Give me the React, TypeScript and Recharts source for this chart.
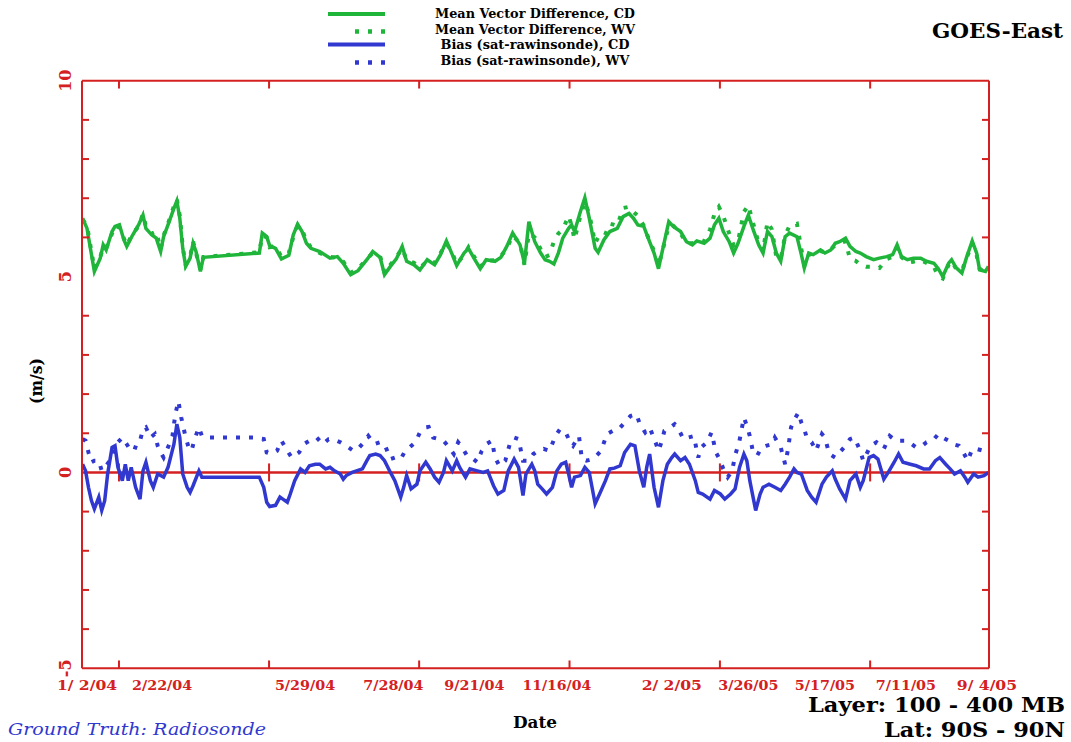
import React from "react";
import { LineChart, Line, XAxis, YAxis, ReferenceLine } from "recharts";

const RED = "#d42020";
const GREEN = "#1fb43a";
const BLUE = "#3038d0";
const FONT = "'DejaVu Serif', serif";

// x is days since 1/2/04
const X_MIN = -3.4;
const X_MAX = 612.4;
const xTickDays = [0, 51, 148, 208, 263, 319, 397, 449, 501, 556, 611];
const xTickLabels = ["1/ 2/04", "2/22/04", "5/29/04", "7/28/04", "9/21/04", "11/16/04", "2/ 2/05", "3/26/05", "5/17/05", "7/11/05", "9/ 4/05"];
const xMarkDays = [21.7, 123.6, 225.5, 327.6, 429.7, 531.7];
const yTicks = [-5, 0, 5, 10];
const yMinorTicks = [-4, -3, -2, -1, 1, 2, 3, 4, 6, 7, 8, 9];

// Mean Vector Difference, CD
const mvdCD: [number, number][] = [[-3,6.49],[0,6.23],[5,5.13],[9,5.47],[11,5.81],[13,5.68],[17,6.15],[19,6.28],[22,6.32],[25,5.94],[27,5.77],[31,6.06],[35,6.32],[38,6.57],[40,6.23],[44,6.06],[47,5.98],[50,5.64],[52,6.02],[55,6.32],[59,6.74],[61,6.93],[63,6.49],[65,5.72],[67,5.26],[70,5.47],[72,5.85],[74,5.64],[77,5.13],[79,5.49],[117,5.6],[119,6.11],[122,6.02],[124,5.79],[128,5.72],[132,5.45],[137,5.54],[140,6.06],[143,6.34],[146,6.15],[149,5.85],[152,5.72],[158,5.64],[165,5.47],[170,5.51],[174,5.34],[179,5.05],[184,5.15],[190,5.43],[194,5.64],[199,5.49],[202,5.05],[206,5.26],[210,5.45],[214,5.77],[217,5.39],[222,5.3],[226,5.17],[231,5.43],[236,5.3],[240,5.56],[244,5.91],[248,5.56],[251,5.28],[256,5.6],[259,5.72],[263,5.45],[267,5.2],[271,5.43],[277,5.39],[281,5.49],[285,5.77],[289,6.11],[294,5.81],[297,5.34],[300,6.4],[304,5.89],[308,5.6],[311,5.43],[314,5.39],[317,5.32],[320,5.6],[323,5.98],[327,6.23],[329,6.32],[331,6.15],[335,6.66],[338,7.01],[341,6.49],[345,5.72],[347,5.62],[351,5.94],[355,6.15],[360,6.23],[364,6.53],[368,6.61],[371,6.49],[374,6.32],[378,6.28],[381,5.98],[385,5.6],[388,5.2],[391,5.72],[395,6.4],[398,6.28],[403,6.15],[407,5.89],[411,5.81],[414,5.91],[419,5.85],[423,5.98],[426,6.32],[429,6.49],[432,6.15],[436,5.89],[439,5.6],[442,5.85],[446,6.28],[449,6.57],[452,6.23],[456,5.81],[459,5.6],[462,6.15],[465,6.02],[468,5.6],[471,5.39],[474,6.02],[477,6.11],[482,6.02],[485,5.56],[487,5.22],[490,5.6],[493,5.56],[498,5.68],[501,5.6],[505,5.68],[508,5.85],[511,5.89],[515,5.98],[518,5.77],[522,5.64],[525,5.6],[529,5.51],[534,5.43],[538,5.47],[543,5.51],[547,5.56],[550,5.81],[553,5.51],[557,5.43],[561,5.47],[566,5.47],[570,5.39],[575,5.34],[578,5.2],[581,5.0],[585,5.34],[587,5.43],[590,5.23],[594,5.09],[597,5.47],[601,5.91],[604,5.6],[606,5.17],[610,5.13],[612,5.26]];

// Mean Vector Difference, WV
const mvdWV: [number, number][] = [[-3,6.45],[0,6.3],[5,5.2],[9,5.5],[11,5.75],[13,5.72],[17,6.1],[19,6.3],[22,6.25],[25,5.98],[27,5.8],[31,6.1],[35,6.28],[38,6.6],[40,6.28],[44,6.1],[47,6.15],[50,5.7],[52,6.05],[55,6.35],[59,6.8],[61,6.98],[63,6.55],[65,5.75],[67,5.3],[70,5.5],[72,5.9],[74,5.6],[77,5.18],[79,5.5],[117,5.62],[119,6.05],[122,6.0],[124,5.75],[128,5.78],[132,5.5],[137,5.6],[140,6.0],[143,6.3],[146,6.2],[149,5.9],[152,5.75],[158,5.6],[165,5.5],[170,5.48],[174,5.38],[179,5.1],[184,5.2],[190,5.45],[194,5.6],[199,5.52],[202,5.1],[206,5.3],[210,5.5],[214,5.72],[217,5.42],[222,5.35],[226,5.22],[231,5.4],[236,5.35],[240,5.6],[244,5.85],[248,5.6],[251,5.32],[256,5.55],[259,5.75],[263,5.5],[267,5.25],[271,5.4],[277,5.42],[281,5.52],[285,5.72],[289,6.05],[294,5.85],[297,5.3],[300,6.1],[304,6.0],[308,5.7],[311,5.5],[314,5.55],[317,5.9],[320,6.1],[323,6.2],[327,6.55],[329,6.3],[331,5.95],[335,6.55],[338,6.9],[341,6.6],[345,5.85],[347,6.0],[351,6.0],[355,6.35],[360,6.3],[364,6.75],[368,6.78],[371,6.65],[374,6.55],[378,6.3],[381,6.0],[385,5.65],[388,5.28],[391,5.7],[395,6.3],[398,6.3],[403,6.1],[407,5.85],[411,5.85],[414,5.88],[419,5.9],[423,6.2],[426,6.6],[429,6.78],[432,6.55],[436,6.1],[439,5.8],[442,5.9],[446,6.65],[449,6.82],[452,6.4],[456,5.85],[459,5.65],[462,6.4],[465,6.2],[468,5.5],[471,5.45],[474,6.05],[477,6.3],[482,6.35],[485,5.7],[487,5.3],[490,5.55],[493,5.6],[498,5.65],[501,5.62],[505,5.7],[508,5.8],[511,5.85],[515,5.9],[518,5.45],[522,5.4],[525,5.3],[529,5.25],[534,5.25],[538,5.22],[543,5.45],[547,5.5],[550,5.75],[553,5.5],[557,5.35],[561,5.38],[566,5.42],[570,5.35],[575,5.25],[578,5.0],[581,4.95],[585,5.3],[587,5.4],[590,5.2],[594,5.15],[597,5.45],[601,5.85],[604,5.55],[606,5.2],[610,5.1],[612,5.2]];

// Bias (sat-rawinsonde), CD
const biasCD: [number, number][] = [[-3,0.21],[-1,0.04],[1,-0.38],[3,-0.72],[5,-0.93],[8,-0.63],[10,-0.97],[12,-0.72],[14,-0.04],[17,0.64],[19,0.68],[21,0.13],[24,-0.21],[26,0.21],[28,-0.21],[30,0.13],[33,-0.38],[36,-0.68],[38,0.04],[40,0.26],[43,-0.21],[45,-0.38],[48,-0.04],[52,-0.12],[55,0.13],[59,0.72],[61,1.23],[63,0.89],[65,-0.04],[68,-0.38],[70,-0.51],[72,-0.34],[76,0.04],[78,-0.12],[117,-0.12],[120,-0.38],[122,-0.76],[124,-0.87],[128,-0.84],[131,-0.63],[133,-0.68],[136,-0.76],[138,-0.55],[141,-0.21],[145,0.09],[148,0.0],[151,0.17],[155,0.21],[158,0.21],[162,0.09],[165,0.13],[168,0.04],[172,-0.04],[174,-0.17],[176,-0.08],[180,0.0],[183,0.04],[187,0.09],[190,0.3],[192,0.43],[196,0.47],[199,0.43],[202,0.3],[206,0.0],[209,-0.21],[213,-0.63],[215,-0.38],[217,-0.08],[220,-0.42],[224,-0.3],[226,0.04],[230,0.26],[233,0.09],[236,-0.12],[239,-0.25],[242,0.0],[244,0.3],[248,0.04],[251,0.3],[253,0.13],[257,-0.12],[260,0.09],[265,0.04],[269,0.0],[272,0.04],[276,-0.34],[279,-0.55],[283,-0.46],[286,0.04],[290,0.34],[293,0.13],[296,-0.59],[298,-0.04],[302,0.21],[304,0.04],[306,-0.3],[309,-0.42],[312,-0.55],[316,-0.38],[319,0.04],[322,0.21],[325,0.26],[327,-0.04],[329,-0.38],[331,-0.12],[335,-0.08],[338,0.13],[341,0.0],[345,-0.8],[348,-0.55],[352,-0.21],[355,0.09],[358,0.11],[362,0.17],[365,0.51],[369,0.72],[372,0.68],[375,0.04],[378,-0.38],[380,0.13],[382,0.47],[385,-0.38],[388,-0.89],[391,-0.21],[394,0.21],[397,0.38],[399,0.47],[403,0.3],[406,0.38],[409,0.21],[413,-0.21],[415,-0.51],[418,-0.55],[423,-0.68],[426,-0.46],[430,-0.55],[433,-0.68],[437,-0.55],[440,-0.42],[443,0.13],[446,0.47],[448,0.3],[450,-0.21],[454,-0.97],[457,-0.55],[459,-0.38],[463,-0.3],[467,-0.38],[471,-0.46],[474,-0.3],[477,-0.12],[480,0.09],[482,0.0],[485,-0.04],[489,-0.46],[492,-0.63],[495,-0.76],[499,-0.3],[502,-0.12],[506,0.04],[508,-0.17],[511,-0.42],[515,-0.68],[518,-0.21],[522,-0.04],[525,-0.38],[527,-0.21],[531,0.38],[534,0.43],[537,0.34],[541,-0.17],[544,0.0],[548,0.26],[551,0.47],[554,0.26],[559,0.21],[563,0.17],[568,0.09],[572,0.09],[576,0.3],[579,0.38],[583,0.21],[586,0.09],[589,-0.04],[593,0.04],[596,-0.12],[598,-0.25],[602,-0.04],[605,-0.12],[609,-0.08],[612,0.0]];

// Bias (sat-rawinsonde), WV
const biasWV: [number, number][] = [[-3,0.85],[-1,0.81],[1,0.51],[3,0.26],[5,0.3],[8,0.3],[10,0.04],[13,0.17],[17,0.38],[19,0.68],[21,0.77],[24,0.89],[27,0.72],[29,0.6],[32,0.55],[34,0.77],[36,0.81],[38,1.1],[40,1.15],[43,0.89],[46,0.98],[48,0.68],[50,0.51],[52,0.38],[55,0.64],[58,0.93],[60,1.49],[62,1.82],[64,1.4],[67,0.89],[69,0.64],[71,0.55],[73,0.85],[76,1.15],[78,0.93],[81,0.89],[113,0.89],[120,0.85],[122,0.51],[125,0.47],[129,0.55],[132,0.81],[136,0.55],[139,0.38],[144,0.51],[147,0.72],[151,0.81],[156,0.89],[160,0.72],[164,0.85],[167,0.85],[172,0.77],[176,0.68],[181,0.55],[184,0.6],[188,0.77],[191,0.93],[195,0.72],[199,0.77],[202,0.72],[206,0.34],[209,0.38],[213,0.34],[216,0.55],[219,0.64],[223,0.77],[226,1.02],[230,1.15],[232,1.16],[235,0.89],[239,0.85],[242,0.81],[245,0.68],[249,0.47],[252,0.77],[254,0.68],[258,0.43],[261,0.38],[265,0.26],[268,0.55],[271,0.72],[275,0.81],[277,0.38],[280,0.17],[284,0.3],[287,0.72],[290,0.89],[293,0.85],[296,0.3],[300,0.3],[303,0.47],[306,0.55],[310,0.6],[314,0.55],[318,0.93],[321,1.1],[325,1.02],[328,0.77],[330,0.68],[334,0.93],[336,0.34],[339,0.3],[343,0.34],[346,0.43],[349,0.55],[353,0.98],[357,1.06],[361,1.1],[364,1.23],[369,1.44],[373,1.49],[375,1.27],[379,1.02],[382,1.15],[386,0.77],[388,0.55],[390,0.77],[392,1.06],[396,1.15],[399,1.23],[401,1.15],[405,0.85],[408,0.89],[412,0.93],[415,0.38],[417,0.64],[421,0.77],[424,1.02],[427,0.51],[430,0.3],[432,0.09],[435,-0.12],[438,0.04],[440,0.43],[443,0.81],[446,1.4],[448,1.19],[450,0.93],[452,0.55],[455,0.43],[458,0.64],[461,0.68],[465,0.72],[467,0.89],[471,0.64],[474,0.21],[476,0.6],[478,1.15],[481,1.4],[483,1.53],[485,1.27],[487,1.1],[489,0.85],[492,0.77],[495,0.55],[499,0.98],[501,0.89],[504,0.47],[508,0.38],[511,0.51],[515,0.68],[518,0.85],[521,0.89],[525,0.55],[527,0.3],[532,0.68],[536,0.77],[541,0.6],[545,0.93],[549,0.81],[552,0.81],[556,0.81],[560,0.72],[563,0.64],[567,0.68],[570,0.77],[575,0.85],[578,0.98],[581,0.89],[585,0.81],[588,0.72],[592,0.68],[595,0.51],[598,0.3],[601,0.6],[604,0.6],[609,0.55],[612,0.64]];

const legendItems = [
  { label: "Mean Vector Difference, CD", color: GREEN, dotted: false },
  { label: "Mean Vector Difference, WV", color: GREEN, dotted: true },
  { label: "Bias (sat-rawinsonde), CD", color: BLUE, dotted: false },
  { label: "Bias (sat-rawinsonde), WV", color: BLUE, dotted: true },
];

const toRows = (pts: [number, number][]) => pts.map(([day, v]) => ({ day, v }));

const XTick = (props: any) => {
  const { x, payload } = props;
  const label = xTickLabels[xTickDays.indexOf(payload.value)] ?? "";
  return (
    <text x={x} y={690} textAnchor="middle" fill={RED} fontFamily={FONT} fontWeight="bold" fontSize={13}
      textLength={label.length * 8.6} lengthAdjust="spacingAndGlyphs">{label}</text>
  );
};

const YTick = (props: any) => {
  const { y, payload } = props;
  return (
    <text x={65} y={y} dy="0.35em" transform={`rotate(-90 65 ${y})`} textAnchor="middle" fill={RED}
      fontFamily={FONT} fontWeight="bold" fontSize={16}>{payload.value}</text>
  );
};

export default function App() {
  const tickLen = 4.75; // ~7px in days
  return (
    <div style={{ position: "absolute", left: 0, top: 0, width: 1071, height: 742, background: "#fff" }}>
      <LineChart width={1071} height={742} margin={{ top: 80.7, right: 82, bottom: 43.7, left: 42 }}>
        <XAxis dataKey="day" type="number" domain={[X_MIN, X_MAX]} allowDataOverflow ticks={xTickDays} interval={0}
          height={30} axisLine={false} tickLine={false} tickSize={0} tick={<XTick />} />
        <YAxis type="number" domain={[-5, 10]} allowDataOverflow ticks={yTicks} interval={0} width={40}
          axisLine={false} tickLine={false} tickSize={0} tick={<YTick />} />

        <ReferenceLine y={0} stroke={RED} strokeWidth={2.5} ifOverflow="visible" />
        {xMarkDays.map((d) => (
          <ReferenceLine key={"z" + d} segment={[{ x: d, y: -0.23 }, { x: d, y: 0.23 }]} stroke={RED} strokeWidth={2} ifOverflow="visible" />
        ))}

        <Line data={toRows(mvdWV)} dataKey="v" type="linear" stroke={GREEN} strokeWidth={4} strokeDasharray="4 9"
          dot={false} activeDot={false} isAnimationActive={false} />
        <Line data={toRows(mvdCD)} dataKey="v" type="linear" stroke={GREEN} strokeWidth={3.5}
          dot={false} activeDot={false} isAnimationActive={false} />
        <Line data={toRows(biasWV)} dataKey="v" type="linear" stroke={BLUE} strokeWidth={4} strokeDasharray="4 9"
          dot={false} activeDot={false} isAnimationActive={false} />
        <Line data={toRows(biasCD)} dataKey="v" type="linear" stroke={BLUE} strokeWidth={3.5}
          dot={false} activeDot={false} isAnimationActive={false} />

        <ReferenceLine x={X_MIN} stroke={RED} strokeWidth={2} ifOverflow="visible" />
        <ReferenceLine x={X_MAX} stroke={RED} strokeWidth={2} ifOverflow="visible" />
        <ReferenceLine y={10} stroke={RED} strokeWidth={2} ifOverflow="visible" />
        <ReferenceLine y={-5} stroke={RED} strokeWidth={2} ifOverflow="visible" />
        {xMarkDays.map((d) => (
          <ReferenceLine key={"b" + d} segment={[{ x: d, y: -5 }, { x: d, y: -4.8 }]} stroke={RED} strokeWidth={2} ifOverflow="visible" />
        ))}
        {xMarkDays.map((d) => (
          <ReferenceLine key={"t" + d} segment={[{ x: d, y: 10 }, { x: d, y: 9.8 }]} stroke={RED} strokeWidth={2} ifOverflow="visible" />
        ))}
        {yMinorTicks.map((v) => (
          <ReferenceLine key={"l" + v} segment={[{ x: X_MIN, y: v }, { x: X_MIN + tickLen, y: v }]} stroke={RED} strokeWidth={2} ifOverflow="visible" />
        ))}
        {yMinorTicks.map((v) => (
          <ReferenceLine key={"r" + v} segment={[{ x: X_MAX, y: v }, { x: X_MAX - tickLen, y: v }]} stroke={RED} strokeWidth={2} ifOverflow="visible" />
        ))}
      </LineChart>

      <svg width={1071} height={742} style={{ position: "absolute", left: 0, top: 0, pointerEvents: "none" }}>
        {legendItems.map((it, i) => {
          const cy = [14, 29.5, 44.5, 60.5][i];
          return (
            <g key={it.label}>
              {it.dotted ? (
                <line x1={355} x2={385} y1={cy + 2} y2={cy + 2} stroke={it.color} strokeWidth={4.5} strokeDasharray="4 9" />
              ) : (
                <line x1={328} x2={385} y1={cy} y2={cy} stroke={it.color} strokeWidth={4} />
              )}
              <text x={535} y={cy + 4} textAnchor="middle" fontFamily={FONT} fontWeight="bold" fontSize={12}
                textLength={i < 2 ? 200 : 189} lengthAdjust="spacingAndGlyphs" fill="#000">{it.label}</text>
            </g>
          );
        })}
        <text x={932} y={38} fontFamily={FONT} fontWeight="bold" fontSize={21} textLength={131} lengthAdjust="spacingAndGlyphs">GOES-East</text>
        <text x={36} y={381} dy="0.35em" transform="rotate(-90 36 381)" textAnchor="middle" fontFamily={FONT}
          fontWeight="bold" fontSize={16} textLength={46} lengthAdjust="spacingAndGlyphs">(m/s)</text>
        <text x={535} y={728} textAnchor="middle" fontFamily={FONT} fontWeight="bold" fontSize={16} textLength={44} lengthAdjust="spacingAndGlyphs">Date</text>
        <text x={8} y={735} fontFamily={FONT} fontStyle="italic" fontSize={17} fill={BLUE} textLength={258} lengthAdjust="spacingAndGlyphs">Ground Truth: Radiosonde</text>
        <text x={808} y={712} fontFamily={FONT} fontWeight="bold" fontSize={21} textLength={257} lengthAdjust="spacingAndGlyphs">Layer: 100 - 400 MB</text>
        <text x={884} y={737} fontFamily={FONT} fontWeight="bold" fontSize={21} textLength={181} lengthAdjust="spacingAndGlyphs">Lat: 90S - 90N</text>
      </svg>
    </div>
  );
}
